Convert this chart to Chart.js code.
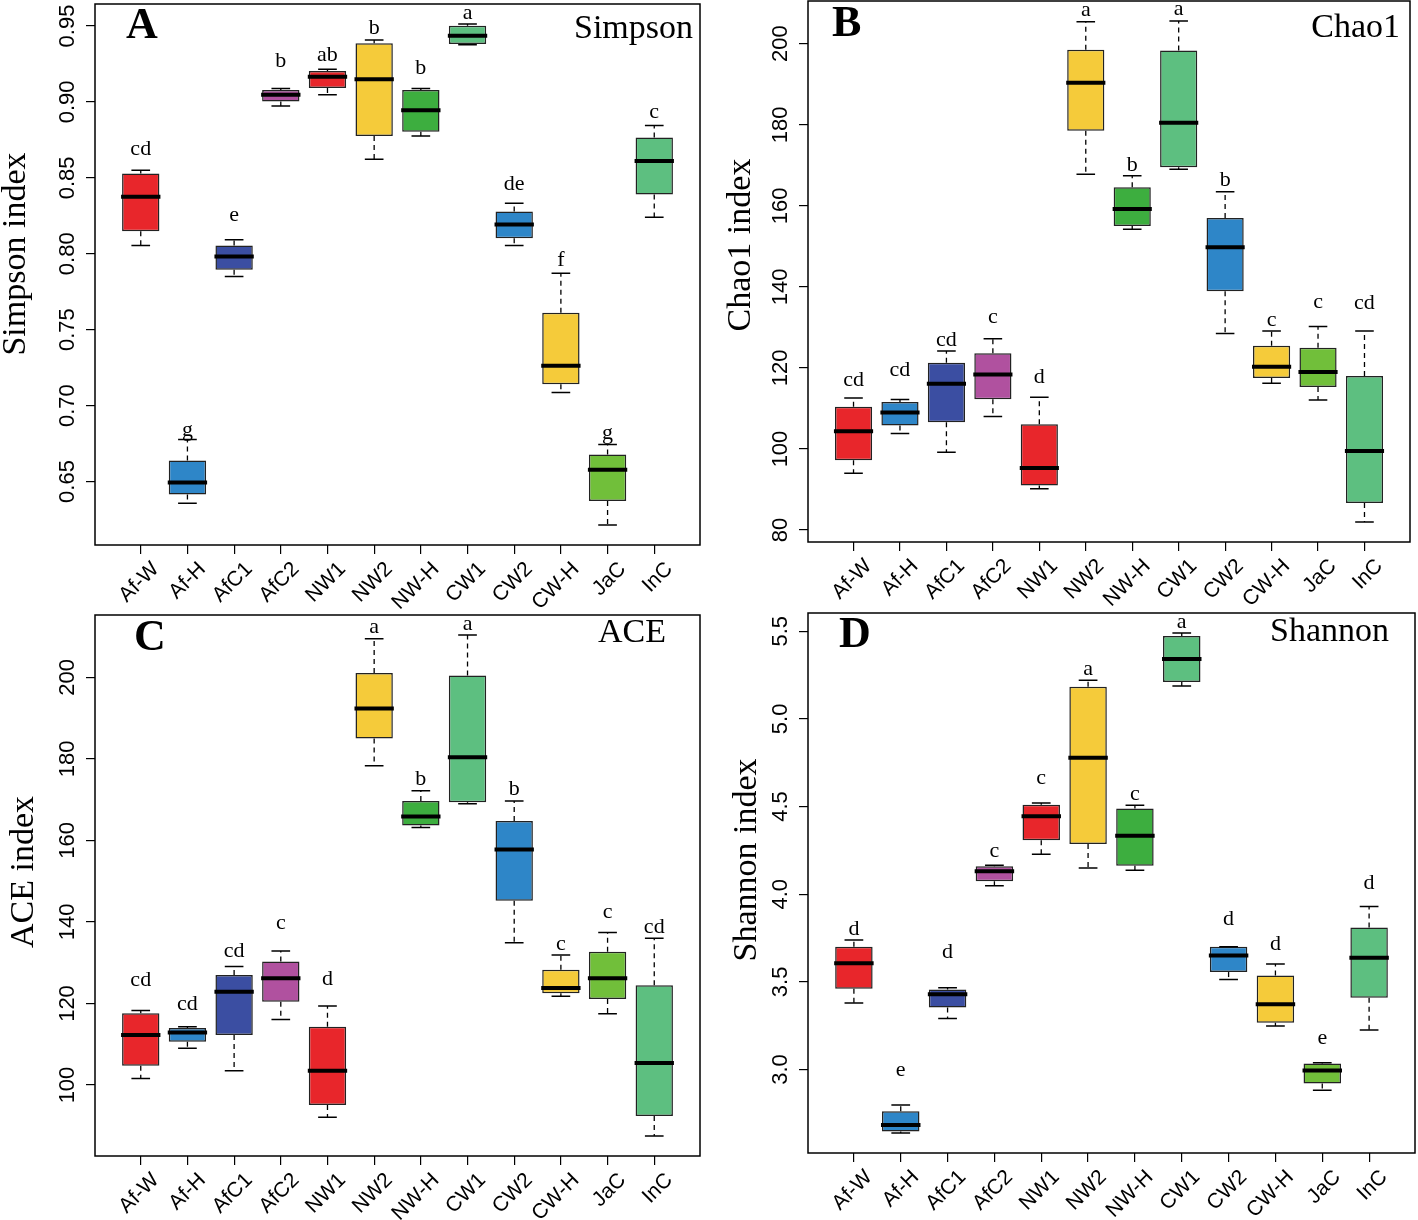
<!DOCTYPE html>
<html><head><meta charset="utf-8">
<script src="https://cdn.jsdelivr.net/npm/chart.js@4/dist/chart.umd.min.js"></script>
<style>
html,body{margin:0;padding:0;background:#fff;}
#wrap{position:relative;width:1418px;height:1220px;overflow:hidden;background:#fff;}
canvas{position:absolute;}
</style></head><body><div id="wrap">
<canvas id="cA" width="709" height="612" style="left:0px;top:0px"></canvas>
<canvas id="cB" width="709" height="612" style="left:709px;top:0px"></canvas>
<canvas id="cC" width="709" height="608" style="left:0px;top:612px"></canvas>
<canvas id="cD" width="709" height="608" style="left:709px;top:612px"></canvas>
</div>
<script>
// ---------- DATA ----------
const categories = ['Af-W','Af-H','AfC1','AfC2','NW1','NW2','NW-H','CW1','CW2','CW-H','JaC','InC'];
const boxColors = ['#E8262B','#2E86C8','#3B4EA2','#B0519F','#E8262B','#F5CB3A','#3DAE3F','#5DBF80','#2E86C8','#F5CB3A','#71BF3A','#5DBF80'];

// Simpson
const simpsonMin    = [0.8055,0.6357,0.7850,0.8974,0.9047,0.8622,0.8776,0.9377,0.8055,0.7087,0.6214,0.8240];
const simpsonQ1     = [0.8149,0.6414,0.7894,0.9003,0.9091,0.8776,0.8803,0.9381,0.8103,0.7140,0.6372,0.8391];
const simpsonMedian = [0.8376,0.6493,0.7982,0.9047,0.9166,0.9150,0.8946,0.9436,0.8193,0.7263,0.6577,0.8611];
const simpsonQ3     = [0.8528,0.6638,0.8055,0.9078,0.9203,0.9386,0.9078,0.9502,0.8279,0.7612,0.6678,0.8765];
const simpsonMax    = [0.8550,0.6777,0.8092,0.9089,0.9216,0.9408,0.9089,0.9513,0.8332,0.7872,0.6744,0.8845];
const simpsonLetters = ['cd','g','e','b','ab','b','b','a','de','f','g','c'];
const simpsonLetterY = [0.8649,0.6801,0.8215,0.9227,0.9269,0.9445,0.9183,0.9546,0.8418,0.7918,0.6777,0.8897];
const simpsonTicks = [0.65,0.70,0.75,0.80,0.85,0.90,0.95];
const simpsonTickLabels = ['0.65','0.70','0.75','0.80','0.85','0.90','0.95'];

// Chao1
const chao1Min    = [94.0,103.8,99.2,108.0,90.2,167.8,154.2,169.0,128.5,116.2,112.1,82.0];
const chao1Q1     = [97.2,105.8,106.6,112.3,91.0,178.5,155.0,169.5,138.9,117.5,115.3,86.7];
const chao1Median = [104.4,109.0,116.1,118.4,95.3,190.4,159.2,180.5,149.8,120.3,119.0,99.5];
const chao1Q3     = [110.45,111.6,121.3,123.6,106.1,198.5,164.6,198.3,157.0,125.5,125.0,118.0];
const chao1Max    = [112.6,112.2,124.2,127.2,112.8,205.4,167.4,205.6,163.5,129.1,130.2,129.1];
const chao1Letters = ['cd','cd','cd','c','d','a','b','a','b','c','c','cd'];
const chao1LetterY = [115.5,118.0,125.4,131.2,116.3,206.8,168.6,207.0,164.8,130.3,134.9,134.5];
const chao1Ticks = [80,100,120,140,160,180,200];
const chao1TickLabels = ['80','100','120','140','160','180','200'];

// ACE
const aceMin    = [101.6,109.0,103.5,116.1,92.1,178.3,163.2,169.0,134.9,121.8,117.5,87.5];
const aceQ1     = [104.7,110.6,112.3,120.4,95.1,185.0,163.7,169.4,145.2,122.5,121.1,92.4];
const aceMedian = [112.3,112.9,122.9,126.2,103.5,192.4,165.9,180.4,157.8,123.8,126.2,105.4];
const aceQ3     = [117.6,114.0,127.0,130.3,114.3,201.1,169.7,200.5,164.8,128.3,132.7,124.5];
const aceMax    = [118.3,114.3,129.1,132.9,119.4,209.5,172.2,210.4,169.7,131.9,137.4,136.0];
const aceLetters = ['cd','cd','cd','c','d','a','b','a','b','c','c','cd'];
const aceLetterY = [124.2,118.4,131.4,138.4,124.6,210.9,173.6,211.7,171.1,133.2,141.0,137.3];
const aceTicks = [100,120,140,160,180,200];
const aceTickLabels = ['100','120','140','160','180','200'];

// Shannon
const shannonMin    = [3.379,2.638,3.291,4.048,4.228,4.150,4.137,5.188,3.514,3.248,2.882,3.225];
const shannonQ1     = [3.461,2.646,3.354,4.074,4.308,4.287,4.162,5.211,3.556,3.267,2.920,3.409];
const shannonMedian = [3.606,2.684,3.430,4.131,4.445,4.779,4.333,5.342,3.651,3.373,2.994,3.638];
const shannonQ3     = [3.701,2.762,3.457,4.160,4.510,5.183,4.489,5.473,3.701,3.537,3.034,3.810];
const shannonMax    = [3.739,2.798,3.467,4.165,4.521,5.221,4.508,5.490,3.701,3.602,3.038,3.930];
const shannonLetters = ['d','e','d','c','c','a','c','a','d','d','e','d'];
const shannonLetterY = [3.768,2.962,3.634,4.213,4.631,5.249,4.540,5.521,3.825,3.682,3.143,4.027];
const shannonTicks = [3.0,3.5,4.0,4.5,5.0,5.5];
const shannonTickLabels = ['3.0','3.5','4.0','4.5','5.0','5.5'];

// ---------- LAYOUT (absolute page pixels) ----------
const panels = [
  {canvas:'cA', left:0,   top:0,   w:709, h:612, frame:[95,4,700,545],
   tag:'A', tagPos:[126,38], name:'Simpson', namePos:[693,38], title:'Simpson index', titlePos:[25,254],
   min:simpsonMin, q1:simpsonQ1, med:simpsonMedian, q3:simpsonQ3, max:simpsonMax,
   letters:simpsonLetters, letterY:simpsonLetterY, ticks:simpsonTicks, tickLabels:simpsonTickLabels},
  {canvas:'cB', left:709, top:0,   w:709, h:612, frame:[808,1,1410,542],
   tag:'B', tagPos:[832,36], name:'Chao1', namePos:[1400,37], title:'Chao1 index', titlePos:[750,245],
   min:chao1Min, q1:chao1Q1, med:chao1Median, q3:chao1Q3, max:chao1Max,
   letters:chao1Letters, letterY:chao1LetterY, ticks:chao1Ticks, tickLabels:chao1TickLabels},
  {canvas:'cC', left:0,   top:612, w:709, h:608, frame:[95,615,700,1156],
   tag:'C', tagPos:[134,650], name:'ACE', namePos:[666,642], title:'ACE index', titlePos:[33,872],
   min:aceMin, q1:aceQ1, med:aceMedian, q3:aceQ3, max:aceMax,
   letters:aceLetters, letterY:aceLetterY, ticks:aceTicks, tickLabels:aceTickLabels},
  {canvas:'cD', left:709, top:612, w:709, h:608, frame:[808,613,1415,1153],
   tag:'D', tagPos:[839,647], name:'Shannon', namePos:[1389,641], title:'Shannon index', titlePos:[756,860],
   min:shannonMin, q1:shannonQ1, med:shannonMedian, q3:shannonQ3, max:shannonMax,
   letters:shannonLetters, letterY:shannonLetterY, ticks:shannonTicks, tickLabels:shannonTickLabels}
];

const SANS = '"Liberation Sans", Arial, sans-serif';
const SERIF = '"Liberation Serif", "Times New Roman", serif';

const boxPlugin = {
  id: 'boxExtras',
  afterDatasetsDraw(chart) {
    const p = chart.options.plugins.boxExtras.panel;
    const {ctx, chartArea} = chart;
    const xs = chart.scales.x, ys = chart.scales.y;
    ctx.save();
    for (let i = 0; i < p.med.length; i++) {
      const xc = xs.getPixelForValue(i + 1);
      const half = xs.getPixelForValue(i + 1.4) - xc;
      const capHalf = half * 0.5;
      const yMin = ys.getPixelForValue(p.min[i]);
      const yQ1 = ys.getPixelForValue(p.q1[i]);
      const yMed = ys.getPixelForValue(p.med[i]);
      const yQ3 = ys.getPixelForValue(p.q3[i]);
      const yMax = ys.getPixelForValue(p.max[i]);
      ctx.strokeStyle = '#000';
      ctx.lineWidth = 1.3;
      ctx.setLineDash([5, 4]);
      ctx.beginPath();
      ctx.moveTo(xc, yQ3); ctx.lineTo(xc, yMax);
      ctx.moveTo(xc, yQ1); ctx.lineTo(xc, yMin);
      ctx.stroke();
      ctx.setLineDash([]);
      ctx.lineWidth = 1.5;
      ctx.beginPath();
      ctx.moveTo(xc - capHalf, yMax); ctx.lineTo(xc + capHalf, yMax);
      ctx.moveTo(xc - capHalf, yMin); ctx.lineTo(xc + capHalf, yMin);
      ctx.stroke();
      ctx.lineWidth = 4;
      ctx.beginPath();
      ctx.moveTo(xc - half - 1, yMed); ctx.lineTo(xc + half + 1, yMed);
      ctx.stroke();
      // significance letters
      ctx.fillStyle = '#000';
      ctx.font = '22px ' + SERIF;
      ctx.textAlign = 'center';
      ctx.textBaseline = 'alphabetic';
      ctx.fillText(p.letters[i], xc, ys.getPixelForValue(p.letterY[i]));
    }
    // frame
    ctx.lineWidth = 1.5;
    ctx.strokeStyle = '#000';
    ctx.strokeRect(chartArea.left, chartArea.top, chartArea.right - chartArea.left, chartArea.bottom - chartArea.top);
    // y tick labels (rotated like R)
    ctx.font = '22px ' + SANS;
    ctx.fillStyle = '#000';
    ctx.textAlign = 'center';
    ctx.textBaseline = 'alphabetic';
    p.ticks.forEach((v, k) => {
      const y = ys.getPixelForValue(v);
      ctx.save();
      ctx.translate(chartArea.left - 21, y);
      ctx.rotate(-Math.PI / 2);
      ctx.fillText(p.tickLabels[k], 0, 0);
      ctx.restore();
    });
    // y axis title
    ctx.save();
    ctx.font = '34px ' + SERIF;
    ctx.translate(p.titlePos[0] - p.left, p.titlePos[1] - p.top);
    ctx.rotate(-Math.PI / 2);
    ctx.fillText(p.title, 0, 0);
    ctx.restore();
    // panel tag
    ctx.font = 'bold 44px ' + SERIF;
    ctx.textAlign = 'left';
    ctx.fillText(p.tag, p.tagPos[0] - p.left, p.tagPos[1] - p.top);
    // index name
    ctx.font = '34px ' + SERIF;
    ctx.textAlign = 'right';
    ctx.fillText(p.name, p.namePos[0] - p.left, p.namePos[1] - p.top);
    ctx.restore();
  }
};

panels.forEach(p => {
  const [fl, ft, fr, fb] = p.frame;
  const lo = Math.min(...p.min), hi = Math.max(...p.max);
  const ext = (hi - lo) * 0.04;
  const yAxisW = fl - p.left;
  const xAxisH = (p.top + p.h) - fb;
  new Chart(document.getElementById(p.canvas), {
    type: 'bar',
    data: {
      datasets: [{
        data: p.q1.map((v, i) => ({x: i + 1, y: [v, p.q3[i]]})),
        backgroundColor: boxColors,
        borderColor: '#222',
        borderWidth: 1.5,
        borderSkipped: false,
        categoryPercentage: 0.8,
        barPercentage: 1.0
      }]
    },
    options: {
      responsive: false,
      animation: false,
      events: [],
      layout: {padding: {left: 0, top: ft - p.top, right: (p.left + p.w) - fr, bottom: 0}},
      plugins: {legend: {display: false}, tooltip: {enabled: false}, boxExtras: {panel: p}},
      scales: {
        x: {
          type: 'linear', min: 0.02, max: 12.98, offset: false,
          afterBuildTicks: s => { s.ticks = categories.map((c, i) => ({value: i + 1})); },
          ticks: {
            callback: v => categories[Math.round(v) - 1],
            autoSkip: false, minRotation: 45, maxRotation: 45,
            font: {family: SANS, size: 21}, color: '#000', padding: 3, labelOffset: 15
          },
          grid: {display: true, offset: false, drawOnChartArea: false, drawTicks: true, tickLength: 9, color: '#000', lineWidth: 1.2},
          border: {display: false},
          afterFit: s => { s.height = xAxisH; }
        },
        y: {
          type: 'linear', min: lo - ext, max: hi + ext,
          afterBuildTicks: s => { s.ticks = p.ticks.map(v => ({value: v})); },
          ticks: {display: false},
          grid: {display: true, drawOnChartArea: false, drawTicks: true, tickLength: 9, color: '#000', lineWidth: 1.2},
          border: {display: false},
          afterFit: s => { s.width = yAxisW; }
        }
      }
    },
    plugins: [boxPlugin]
  });
});
</script>
</body></html>
